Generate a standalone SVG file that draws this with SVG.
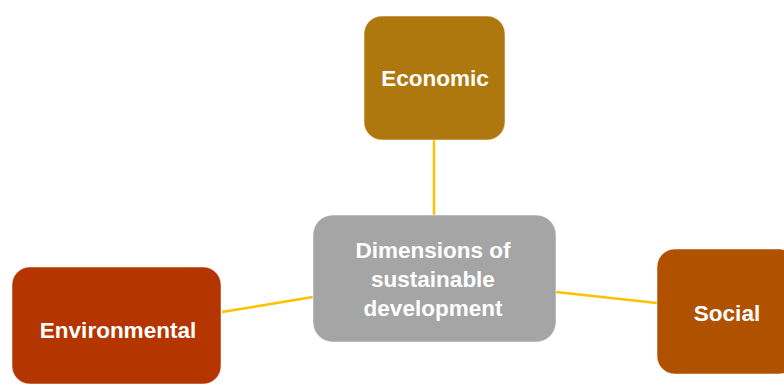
<svg xmlns="http://www.w3.org/2000/svg" width="784" height="385" viewBox="0 0 784 385">
<style>
.box{stroke:#ffffff;stroke-opacity:0.5;stroke-width:1}
.lbl{font-family:"Liberation Sans",Arial,sans-serif;font-weight:bold;font-size:22.5px;fill:#ffffff;text-anchor:middle}
.conn{stroke:#FFC000;stroke-width:2.5;fill:none}
</style>
<rect width="784" height="385" fill="#ffffff"/>
<g id="connectors">
<line class="conn" x1="434" y1="140" x2="434" y2="215"/>
<line class="conn" x1="222" y1="312" x2="313" y2="297"/>
<line class="conn" x1="556" y1="292" x2="657" y2="303"/>
</g>
<g id="economic">
<rect class="box" x="364" y="16" width="141" height="124" rx="18" fill="#AE780E"/>
<text class="lbl" x="435" y="86">Economic</text>
</g>
<g id="center">
<rect class="box" x="313" y="215" width="243" height="127" rx="20" fill="#A5A5A5"/>
<text class="lbl" x="433" y="258">Dimensions of</text>
<text class="lbl" x="433" y="287">sustainable</text>
<text class="lbl" x="433" y="316">development</text>
</g>
<g id="environmental">
<rect class="box" x="12" y="267" width="209" height="117" rx="18" fill="#B53500"/>
<text class="lbl" x="118" y="338">Environmental</text>
</g>
<g id="social">
<rect class="box" x="657" y="249" width="140" height="125" rx="18" fill="#B05100"/>
<text class="lbl" x="727" y="321">Social</text>
</g>
</svg>
